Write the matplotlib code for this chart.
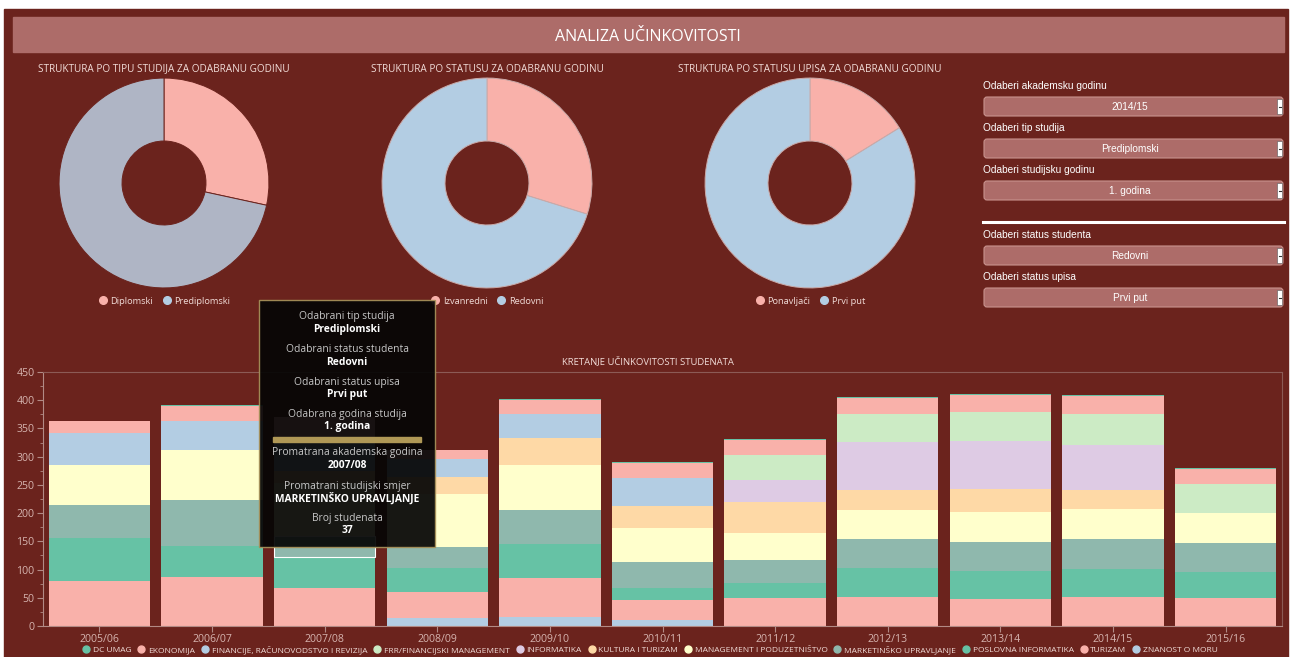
import numpy as np
import matplotlib.pyplot as plt
from matplotlib.patches import Rectangle, FancyBboxPatch
from matplotlib.lines import Line2D
from matplotlib.ticker import MultipleLocator

W, H = 1291, 657
BG = "#6b231d"
BANNER = "#ad6c69"
TXT = "#f1dcd8"
TICK = "#d6b4af"

PINK = "#f9b1aa"
BLUE = "#b3cde3"
LGREEN = "#ccebc5"
LAV = "#decbe4"
ORANGE = "#fed9a6"
YELLOW = "#ffffcc"
GTEAL = "#8fb8ad"
GREEN = "#66c2a5"

# donut data (shares)
tip_labels = ["Diplomski", "Prediplomski"]
tip_values = [28.4, 71.6]
status_labels = ["Izvanredni", "Redovni"]
status_values = [29.8, 70.2]
upis_labels = ["Ponavljači", "Prvi put"]
upis_values = [16.2, 83.8]

# bar data
years = ["2005/06", "2006/07", "2007/08", "2008/09", "2009/10", "2010/11",
         "2011/12", "2012/13", "2013/14", "2014/15", "2015/16"]
znanost = [0, 0, 0, 15, 16, 11, 0, 0, 0, 0, 0]
turizam = [80, 86, 67, 46, 69, 35, 50, 52, 48, 52, 50]
poslovna = [76, 56, 55, 41, 61, 21, 26, 51, 49, 49, 46]
marketing = [58, 81, 37, 38, 60, 47, 41, 51, 52, 54, 51]
management = [71, 89, 95, 93, 79, 59, 48, 51, 53, 52, 53]
kultura = [0, 0, 20, 31, 48, 39, 55, 36, 41, 34, 0]
informatika = [0, 0, 0, 0, 0, 0, 38, 85, 84, 80, 0]
frr = [0, 0, 0, 0, 0, 0, 45, 50, 53, 55, 51]
financije = [57, 52, 60, 31, 43, 51, 0, 0, 0, 0, 0]
ekonomija = [21, 26, 36, 16, 24, 26, 26, 28, 29, 31, 27]
dc_umag = [1, 1, 1, 1, 2, 2, 2, 1, 2, 2, 2]

legend_names = ["DC UMAG", "EKONOMIJA", "FINANCIJE, RAČUNOVODSTVO I REVIZIJA",
                "FRR/FINANCIJSKI MANAGEMENT", "INFORMATIKA", "KULTURA I TURIZAM",
                "MANAGEMENT I PODUZETNIŠTVO", "MARKETINŠKO UPRAVLJANJE",
                "POSLOVNA INFORMATIKA", "TURIZAM", "ZNANOST O MORU"]
legend_colors = [GREEN, PINK, BLUE, LGREEN, LAV, ORANGE, YELLOW, GTEAL, GREEN, PINK, BLUE]
# stacked bottom-up (reverse of legend order)
stack = [znanost, turizam, poslovna, marketing, management, kultura,
         informatika, frr, financije, ekonomija, dc_umag]
stack_colors = legend_colors[::-1]

plt.rcParams["font.family"] = ["Open Sans", "DejaVu Sans"]

fig = plt.figure(figsize=(W / 100, H / 100), dpi=100, facecolor="white")


def box(x0, y0, x1, y1):
    return [x0 / W, 1 - y1 / H, (x1 - x0) / W, (y1 - y0) / H]


# background decorations
deco = fig.add_axes([0, 0, 1, 1], zorder=-5)
deco.set_xlim(0, W)
deco.set_ylim(H, 0)
deco.axis("off")
deco.add_patch(Rectangle((4, 9), W - 7, H - 9, color=BG))
deco.add_patch(Rectangle((13, 17), 1271, 35, color=BANNER))
deco.text(648, 37, "ANALIZA UČINKOVITOSTI", color="white", fontsize=11.5,
          ha="center", va="center")

# right control panel
controls = [("Odaberi akademsku godinu", "2014/15", 86),
            ("Odaberi tip studija", "Prediplomski", 128),
            ("Odaberi studijsku godinu", "1. godina", 170),
            ("Odaberi status studenta", "Redovni", 235),
            ("Odaberi status upisa", "Prvi put", 277)]
for lab, val, yy in controls:
    deco.text(983, yy, lab, color="white", fontsize=7.3, family="Liberation Sans",
              ha="left", va="center")
    deco.add_patch(FancyBboxPatch((984, yy + 11), 299, 19, boxstyle="round,pad=0,rounding_size=3",
                                  facecolor=BANNER, edgecolor="#c9938e", lw=0.8))
    deco.text(1130, yy + 21, val, color="white", fontsize=7.3, family="Liberation Sans",
              ha="center", va="center")
    deco.add_patch(Rectangle((1277, yy + 13), 5, 15, facecolor="white", edgecolor="#555555", lw=0.4))
    deco.plot([1278.5, 1280.5], [yy + 21, yy + 21], color="#333333", lw=0.8)
deco.plot([983, 1284], [222, 222], color="white", lw=2.2)

# donuts
donuts = [(164, "STRUKTURA PO TIPU STUDIJA ZA ODABRANU GODINU", tip_labels, tip_values,
           [PINK, "#afb5c5"], [PINK, BLUE], BG),
          (487, "STRUKTURA PO STATUSU ZA ODABRANU GODINU", status_labels, status_values,
           [PINK, BLUE], [PINK, BLUE], "#c9a9a8"),
          (810, "STRUKTURA PO STATUSU UPISA ZA ODABRANU GODINU", upis_labels, upis_values,
           [PINK, BLUE], [PINK, BLUE], "#c9a9a8")]
for cx, title, labs, vals, cols, lcols, ec in donuts:
    r = 106
    ax = fig.add_axes(box(cx - r, 183 - r, cx + r, 183 + r))
    ax.pie(vals, colors=cols, startangle=90, counterclock=False,
           wedgeprops=dict(width=0.6, edgecolor=ec, linewidth=0.7))
    ax.set_xlim(-1.01, 1.01)
    ax.set_ylim(-1.01, 1.01)
    ax.set_aspect("equal")
    fig.text(cx / W, 1 - 69 / H, title, color=TXT, fontsize=7.2, ha="center", va="center")
    handles = [Line2D([], [], marker="o", ls="", markersize=5.5, color=c) for c in lcols]
    fig.legend(handles, labs, loc="center", bbox_to_anchor=(cx / W, 1 - 301 / H),
               ncol=2, frameon=False, fontsize=6.7, labelcolor=TXT, handletextpad=0.3,
               columnspacing=1.0, handlelength=1.0)

# stacked bar chart
bx = fig.add_axes(box(43, 372, 1282, 626))
bx.set_facecolor("none")
x = np.arange(len(years))
bottom = np.zeros(len(years))
seg_bars = []
for vals, col in zip(stack, stack_colors):
    bars = bx.bar(x, vals, 0.9, bottom=bottom, color=col, linewidth=0)
    seg_bars.append(bars)
    bottom += np.array(vals)
# hovered segment (MARKETINŠKO UPRAVLJANJE, 2007/08)
hov = seg_bars[3][2]
hov.set_edgecolor("white")
hov.set_linewidth(0.8)

bx.set_xlim(-0.5, len(years) - 0.5)
bx.set_ylim(0, 450)
bx.yaxis.set_major_locator(MultipleLocator(50))
bx.yaxis.set_minor_locator(MultipleLocator(25))
bx.set_xticks(x)
bx.set_xticklabels(years)
for s in ["left", "bottom"]:
    bx.spines[s].set_color("#b28a85")
for s in ["top", "right"]:
    bx.spines[s].set_color("#8c5a55")
    bx.spines[s].set_linewidth(0.8)
bx.tick_params(colors="#b28a85", labelcolor=TICK, labelsize=7.6, length=4, pad=2)
bx.tick_params(which="minor", colors="#b28a85", length=2)
fig.text(648 / W, 1 - 361 / H, "KRETANJE UČINKOVITOSTI STUDENATA", color=TXT,
         fontsize=6.8, ha="center", va="center")

handles = [Line2D([], [], marker="o", ls="", markersize=5, color=c) for c in legend_colors]
fig.legend(handles, legend_names, loc="center", bbox_to_anchor=(650 / W, 1 - 650 / H),
           ncol=len(legend_names), frameon=False, fontsize=6.0, labelcolor=TXT,
           handletextpad=0.3, columnspacing=0.7, handlelength=1.0, borderpad=0)

# tooltip
tip = fig.add_axes([0, 0, 1, 1], zorder=10)
tip.set_xlim(0, W)
tip.set_ylim(H, 0)
tip.axis("off")
tip.add_patch(Rectangle((259, 300), 176, 247, facecolor="#050505", alpha=0.93,
                        edgecolor="#a8925a", lw=1.0))
lines = [("Odabrani tip studija", "Prediplomski", 317),
         ("Odabrani status studenta", "Redovni", 350),
         ("Odabrani status upisa", "Prvi put", 382),
         ("Odabrana godina studija", "1. godina", 414),
         ("Promatrana akademska godina", "2007/08", 453),
         ("Promatrani studijski smjer", "MARKETINŠKO UPRAVLJANJE", 486),
         ("Broj studenata", "37", 518)]
for lab, val, yy in lines:
    tip.text(347, yy, lab, color="#c8c8c8", fontsize=7.4, ha="center", va="center")
    tip.text(347, yy + 12.5, val, color="white", fontsize=7.4, fontweight="bold",
             ha="center", va="center")
tip.add_patch(Rectangle((273, 437), 148, 5, color="#b09856"))

fig.savefig("out.png", dpi=100, facecolor="white")
